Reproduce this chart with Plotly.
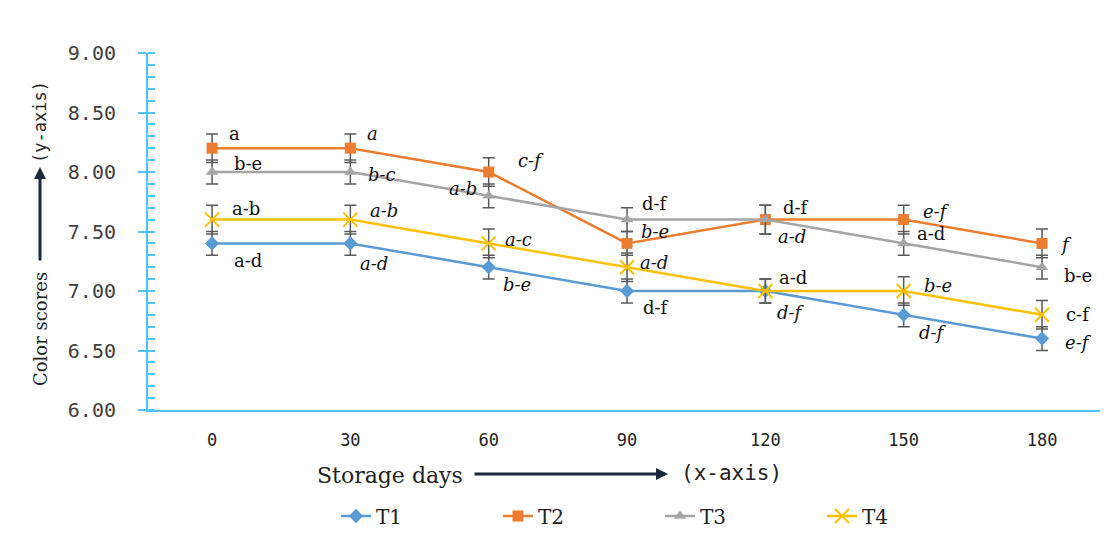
import plotly.graph_objects as go

days = ["0", "30", "60", "90", "120", "150", "180"]
series_names = ["T1", "T2", "T3", "T4"]
T1 = [7.4, 7.4, 7.2, 7.0, 7.0, 6.8, 6.6]
T2 = [8.2, 8.2, 8.0, 7.4, 7.6, 7.6, 7.4]
T3 = [8.0, 8.0, 7.8, 7.6, 7.6, 7.4, 7.2]
T4 = [7.6, 7.6, 7.4, 7.2, 7.0, 7.0, 6.8]
T1_err = [0.1, 0.1, 0.1, 0.1, 0.1, 0.1, 0.1]
T2_err = [0.12, 0.12, 0.12, 0.1, 0.12, 0.12, 0.12]
T3_err = [0.1, 0.1, 0.1, 0.1, 0.12, 0.1, 0.1]
T4_err = [0.12, 0.12, 0.12, 0.12, 0.1, 0.12, 0.12]

T1_lab = ["a-d", "a-d", "b-e", "d-f", "d-f", "d-f", "e-f"]
T2_lab = ["a", "a", "c-f", "b-e", "d-f", "e-f", "f"]
T3_lab = ["b-e", "b-c", "a-b", "d-f", "a-d", "a-d", "b-e"]
T4_lab = ["a-b", "a-b", "a-c", "a-d", "a-d", "b-e", "c-f"]

values = [T1, T2, T3, T4]
errors = [T1_err, T2_err, T3_err, T4_err]
labels = [T1_lab, T2_lab, T3_lab, T4_lab]

colors = ["#5B9BD5", "#ED7D31", "#A5A5A5", "#FFC000"]
symbols = ["diamond", "square", "triangle-up", "x-thin"]

# label offsets (pixels) and italic flags per series / point
offsets = [
    [(36, -17), (24, -20), (28, -17), (29, -16), (26, -21), (29, -18), (36, -4)],
    [(22, 15), (22, 15), (42, 12), (28, 12), (31, 12), (33, 8), (24, -1)],
    [(36, 9), (32, -2), (-26, 7), (28, 16), (27, -17), (27, 10), (36, -8)],
    [(34, 11), (34, 9), (30, 4), (27, 5), (28, 14), (34, 6), (36, 0)],
]
italic = [
    [False, True, True, False, True, True, True],
    [False, True, True, True, False, True, True],
    [False, True, True, False, True, False, False],
    [False, True, True, True, False, True, False],
]

fig = go.Figure()
for name, vals, err, col, sym in zip(series_names, values, errors, colors, symbols):
    marker = dict(symbol=sym, size=11, color=col)
    if sym == "x-thin":
        marker = dict(symbol=sym, size=14, color=col, line=dict(color=col, width=2))
    fig.add_trace(go.Scatter(
        x=days, y=vals, name=name, mode="lines+markers",
        line=dict(color=col, width=2.5),
        marker=marker,
        error_y=dict(type="data", array=err, visible=True, color="#595959",
                     thickness=1.5, width=6),
    ))

annotations = []
for s in range(4):
    for i, d in enumerate(days):
        txt = labels[s][i]
        if italic[s][i]:
            txt = "<i>" + txt + "</i>"
        dx, dy = offsets[s][i]
        annotations.append(dict(
            x=i, y=values[s][i], xref="x", yref="y", text=txt, showarrow=False,
            xshift=dx, yshift=dy, xanchor="center", yanchor="middle",
            font=dict(family="DejaVu Serif", size=18, color="#111111"),
        ))

# helpers: reference page pixels -> paper coordinates
PL, PW, PB, PH = 148.0, 960.0, 410.0, 357.0
def px(p):
    return (p - PL) / PW
def py(p):
    return (PB - p) / PH

AX_COL = "#4FC3F7"

annotations += [
    dict(x=px(40), y=py(329), xref="paper", yref="paper", text="Color scores",
         textangle=-90, showarrow=False, xanchor="center", yanchor="middle",
         font=dict(family="DejaVu Serif", size=18, color="#222222")),
    dict(x=px(40), y=py(167), xref="paper", yref="paper", text="",
         showarrow=True, ax=0, ay=95, arrowhead=2, arrowsize=0.8, arrowwidth=3,
         arrowcolor="#1a2a3a"),
    dict(x=px(40), y=py(122), xref="paper", yref="paper", text="(y-axis)",
         textangle=-90, showarrow=False, xanchor="center", yanchor="middle",
         font=dict(family="DejaVu Sans Mono", size=17, color="#222222")),
    dict(x=px(390), y=py(475), xref="paper", yref="paper", text="Storage days",
         showarrow=False, xanchor="center", yanchor="middle",
         font=dict(family="DejaVu Serif", size=22, color="#222222")),
    dict(x=px(668), y=py(474), xref="paper", yref="paper", text="",
         showarrow=True, ax=-195, ay=0, arrowhead=2, arrowsize=0.8, arrowwidth=3,
         arrowcolor="#1a2a3a"),
    dict(x=px(731), y=py(473), xref="paper", yref="paper", text="(x-axis)",
         showarrow=False, xanchor="center", yanchor="middle",
         font=dict(family="DejaVu Sans Mono", size=21, color="#222222")),
]

fig.update_layout(
    width=1100, height=525,
    margin=dict(l=140, r=0, t=45, b=123, autoexpand=False),
    plot_bgcolor="white", paper_bgcolor="white",
    showlegend=True,
    legend=dict(orientation="h", x=px(336), y=py(516), xanchor="left", yanchor="middle",
                entrywidth=117, entrywidthmode="pixels",
                font=dict(family="DejaVu Serif", size=20, color="#222222")),
    annotations=annotations,
    xaxis=dict(
        type="category", range=[-0.463, 6.477], automargin=False,
        showline=True, linecolor=AX_COL, linewidth=2,
        showgrid=False, ticks="", zeroline=False,
        tickfont=dict(family="DejaVu Sans Mono", size=17, color="#222222"),
        ticklabelstandoff=14,
    ),
    yaxis=dict(
        range=[6, 9], dtick=0.5, tickformat=".2f", automargin=False,
        showline=True, linecolor=AX_COL, linewidth=2,
        showgrid=False, zeroline=False,
        ticks="outside", ticklen=8, tickcolor=AX_COL, tickwidth=2,
        minor=dict(dtick=0.1, ticks="inside", ticklen=7, tickcolor=AX_COL, tickwidth=2),
        tickfont=dict(family="DejaVu Sans Mono", size=20, color="#404040"),
        ticklabelstandoff=18,
    ),
    yaxis2=dict(
        range=[6, 9], dtick=0.5, overlaying="y", side="left", automargin=False,
        showline=False, showgrid=False, zeroline=False, showticklabels=False,
        ticks="inside", ticklen=8, tickcolor=AX_COL, tickwidth=2,
    ),
)

fig.write_html("out.html")
